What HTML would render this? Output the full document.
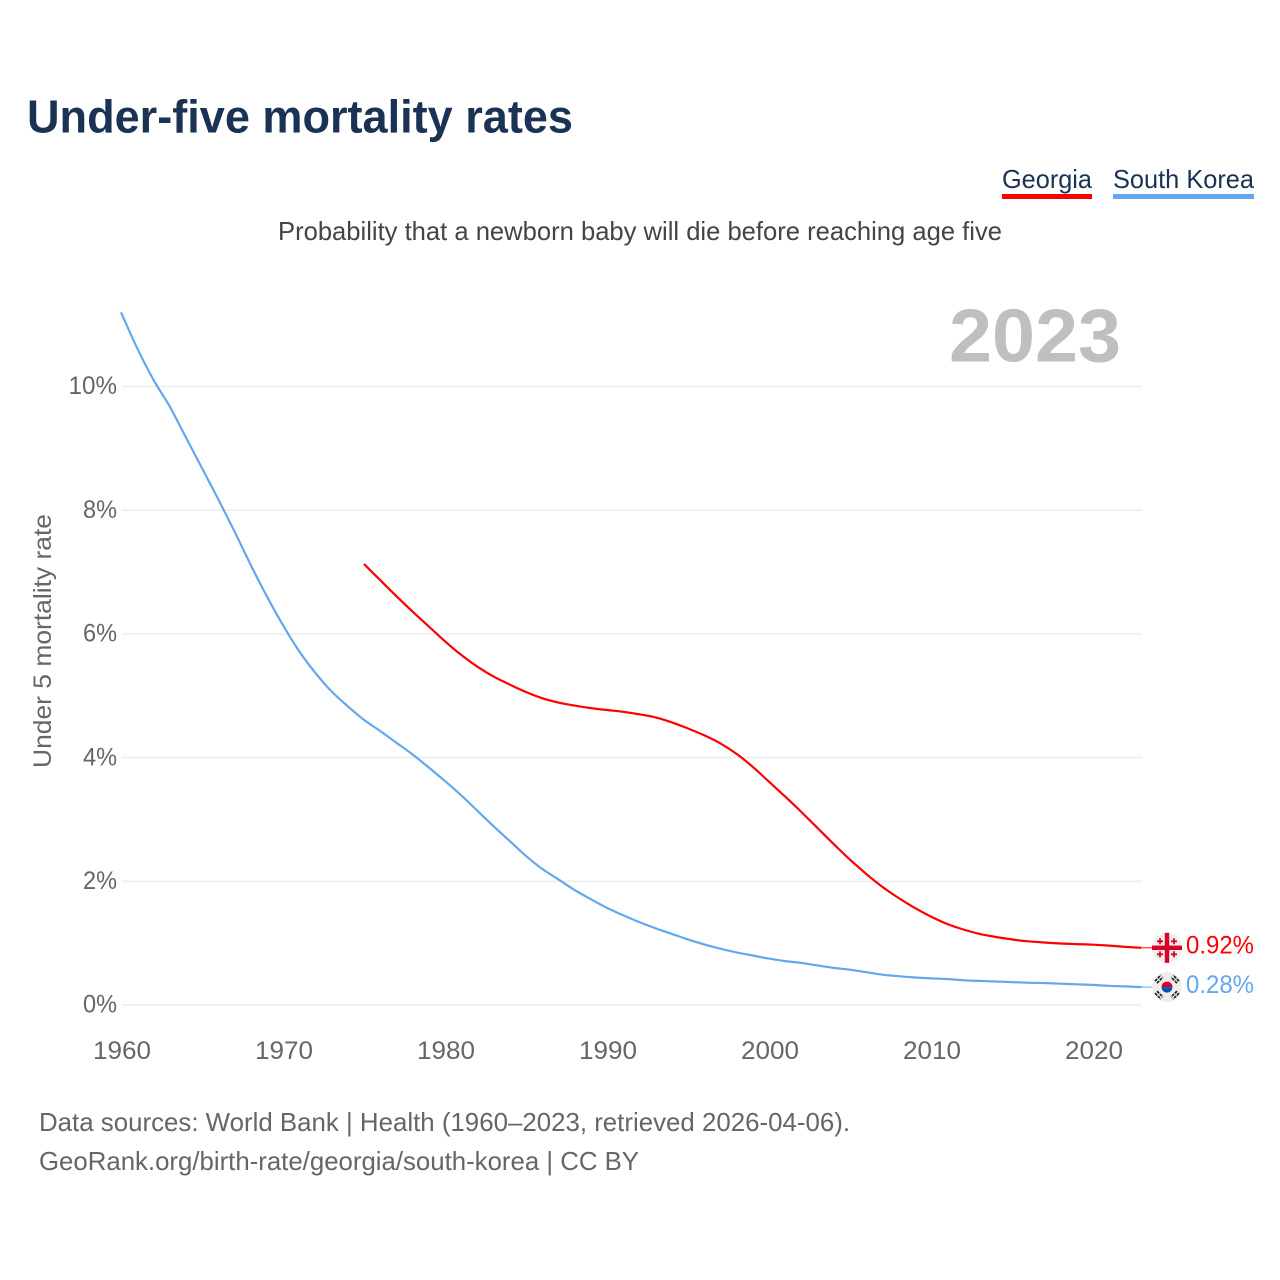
<!DOCTYPE html>
<html lang="en">
<head>
<meta charset="utf-8">
<title>Under-five mortality rates</title>
<style>
html,body{margin:0;padding:0;background:#fff;}
svg{display:block;font-family:"Liberation Sans",sans-serif;}
</style>
</head>
<body>
<svg id="chart" xmlns="http://www.w3.org/2000/svg" width="1280" height="1280" viewBox="0 0 1280 1280">
<rect x="0" y="0" width="1280" height="1280" fill="#fff"/>
<text x="27" y="132.5" font-size="46" font-weight="700" fill="#1a3254" textLength="546" lengthAdjust="spacingAndGlyphs">Under-five mortality rates</text>
<g>
<text x="1002" y="188" font-size="26" fill="#1a3254" textLength="90" lengthAdjust="spacingAndGlyphs">Georgia</text>
<rect x="1002" y="194" width="90" height="5" fill="#ff0000"/>
</g>
<g>
<text x="1113" y="188" font-size="26" fill="#1a3254" textLength="141" lengthAdjust="spacingAndGlyphs">South Korea</text>
<rect x="1113" y="194" width="141" height="5" fill="#63a8ec"/>
</g>
<text x="278" y="240" font-size="26" fill="#444" textLength="724" lengthAdjust="spacingAndGlyphs">Probability that a newborn baby will die before reaching age five</text>
<text x="949" y="361.5" font-size="75" font-weight="700" fill="#bfbfbf" textLength="172" lengthAdjust="spacingAndGlyphs">2023</text>
<g id="grid"></g>
<g id="yticks"></g>
<g id="xticks"></g>
<text transform="translate(51,768) rotate(-90)" x="0" y="0" font-size="25" fill="#666" textLength="254" lengthAdjust="spacingAndGlyphs">Under 5 mortality rate</text>
<g id="series"></g>
<g id="georgia-flag">
<circle cx="0" cy="0" r="15" fill="#eeeeee"/>
<rect x="-2.2" y="-15" width="4.4" height="30" fill="#d80027"/>
<rect x="-15" y="-2.2" width="30" height="4.4" fill="#d80027"/>
<path d="M-7 -9.5v6M-10 -6.5h6M7 -9.5v6M4 -6.5h6M-7 3.5v6M-10 6.5h6M7 3.5v6M4 6.5h6" stroke="#d80027" stroke-width="1.8" fill="none"/>
</g>
<g id="korea-flag">
<circle cx="0" cy="0" r="15" fill="#eeeeee"/>
<path d="M-5.5 0A5.5 5.5 0 0 1 5.5 0Z" fill="#d80027"/>
<path d="M-5.5 0A5.5 5.5 0 0 0 5.5 0Z" fill="#0052b4"/>
<path d="M-12 -6l6 -6M-10 -4l6 -6M12 -6l-6 -6M10 -4l-6 -6M-12 6l6 6M-10 4l6 6M12 6l-6 6M10 4l-6 6" stroke="#222" stroke-width="1.7" stroke-dasharray="3 1" fill="none"/>
</g>
<g id="endlabels"></g>
<text x="39" y="1131" font-size="26" fill="#666" textLength="811" lengthAdjust="spacingAndGlyphs">Data sources: World Bank | Health (1960–2023, retrieved 2026-04-06).</text>
<text x="39" y="1170" font-size="26" fill="#666" textLength="600" lengthAdjust="spacingAndGlyphs">GeoRank.org/birth-rate/georgia/south-korea | CC BY</text>
</svg>
<script>
const yTickValues = [0, 2, 4, 6, 8, 10];
const xTickYears = [1960, 1970, 1980, 1990, 2000, 2010, 2020];
const koreaStartYear = 1960;
const koreaValues = [11.2,10.62,10.11,9.68,9.18,8.68,8.18,7.66,7.12,6.61,6.14,5.72,5.37,5.07,4.83,4.61,4.43,4.24,4.05,3.84,3.62,3.39,3.14,2.89,2.65,2.41,2.2,2.03,1.86,1.71,1.57,1.45,1.34,1.24,1.15,1.06,0.98,0.91,0.85,0.8,0.75,0.71,0.68,0.64,0.6,0.57,0.53,0.49,0.465,0.445,0.43,0.42,0.4,0.39,0.38,0.37,0.36,0.355,0.345,0.335,0.325,0.31,0.3,0.29];
const georgiaStartYear = 1975;
const georgiaValues = [7.13,6.87,6.61,6.36,6.12,5.88,5.66,5.47,5.31,5.18,5.06,4.96,4.89,4.84,4.8,4.77,4.74,4.7,4.65,4.57,4.47,4.36,4.23,4.06,3.85,3.61,3.37,3.12,2.86,2.6,2.35,2.12,1.91,1.73,1.57,1.43,1.31,1.22,1.15,1.1,1.06,1.03,1.01,0.995,0.985,0.975,0.96,0.94,0.925];
const georgiaLabel = "0.92%";
const koreaLabel = "0.28%";

const SVGNS = "http://www.w3.org/2000/svg";
function xTickScale(year){ return 122 + (year - 1960) * 16.2; }
function xScale(year){ return 121 + (year - 1960) * 16.2; }
function yScale(v){ return 1005 - v * 61.85; }
function mk(tag, parentId){
  const el = document.createElementNS(SVGNS, tag);
  document.getElementById(parentId).appendChild(el);
  return el;
}
function set(el, props){ for (const k in props) el.setAttribute(k, props[k]); }

yTickValues.forEach(function(v){
  const line = mk("line", "grid");
  
  
  set(line, {x1: 122, x2: 1142, y1: yScale(v), y2: yScale(v), stroke: "#eeeeee", "stroke-width": 1.6});
  const t = mk("text", "yticks");
  
  
  const s = v + "%";
  set(t, {x: 117, y: yScale(v) + 7.7, "text-anchor": "end", "font-size": 25, fill: "#666", textLength: (s.length - 1) * 14.5 + 19.5, lengthAdjust: "spacingAndGlyphs"});
  t.textContent = s;
});

xTickYears.forEach(function(year){
  const t = mk("text", "xticks");
  
  
  set(t, {x: xTickScale(year), y: 1059, "text-anchor": "middle", "font-size": 25, fill: "#666", textLength: 58, lengthAdjust: "spacingAndGlyphs"});
  t.textContent = String(year);
});

function pathFor(values, startYear){
  const pts = values.map(function(v, i){ return [xScale(startYear + i), yScale(v)]; });
  let d = "M" + pts[0][0].toFixed(1) + " " + pts[0][1].toFixed(1);
  for (let i = 0; i < pts.length - 1; i++) {
    const p0 = pts[Math.max(i - 1, 0)], p1 = pts[i], p2 = pts[i + 1], p3 = pts[Math.min(i + 2, pts.length - 1)];
    const c1x = p1[0] + (p2[0] - p0[0]) / 6, c1y = p1[1] + (p2[1] - p0[1]) / 6;
    const c2x = p2[0] - (p3[0] - p1[0]) / 6, c2y = p2[1] - (p3[1] - p1[1]) / 6;
    d += "C" + c1x.toFixed(1) + " " + c1y.toFixed(1) + " " + c2x.toFixed(1) + " " + c2y.toFixed(1) + " " + p2[0].toFixed(1) + " " + p2[1].toFixed(1);
  }
  return d;
}

const koreaLine = mk("path", "series");


set(koreaLine, {d: pathFor(koreaValues, koreaStartYear), fill: "none", stroke: "#63a8ec", "stroke-width": 2.2, "stroke-linejoin": "round"});

const georgiaLine = mk("path", "series");


set(georgiaLine, {d: pathFor(georgiaValues, georgiaStartYear), fill: "none", stroke: "#ff0000", "stroke-width": 2.2, "stroke-linejoin": "round"});

const gLast = yScale(georgiaValues[georgiaValues.length - 1]);
const kLast = yScale(koreaValues[koreaValues.length - 1]);

const gConn = mk("line", "series");


set(gConn, {x1: 1142, x2: 1152, y1: gLast, y2: gLast, stroke: "#ff0000", "stroke-width": 1});

const kConn = mk("line", "series");


set(kConn, {x1: 1142, x2: 1152, y1: kLast, y2: kLast, stroke: "#63a8ec", "stroke-width": 1});

document.getElementById("georgia-flag").setAttribute("transform", "translate(1167," + gLast.toFixed(1) + ")");
document.getElementById("korea-flag").setAttribute("transform", "translate(1167," + kLast.toFixed(1) + ")");

const gText = mk("text", "endlabels");


set(gText, {x: 1186, y: gLast + 5.5, "font-size": 25, fill: "#ff0000", textLength: 68, lengthAdjust: "spacingAndGlyphs"});
gText.textContent = georgiaLabel;

const kText = mk("text", "endlabels");


set(kText, {x: 1186, y: kLast + 6, "font-size": 25, fill: "#63a8ec", textLength: 68, lengthAdjust: "spacingAndGlyphs"});
kText.textContent = koreaLabel;
</script>
</body>
</html>
